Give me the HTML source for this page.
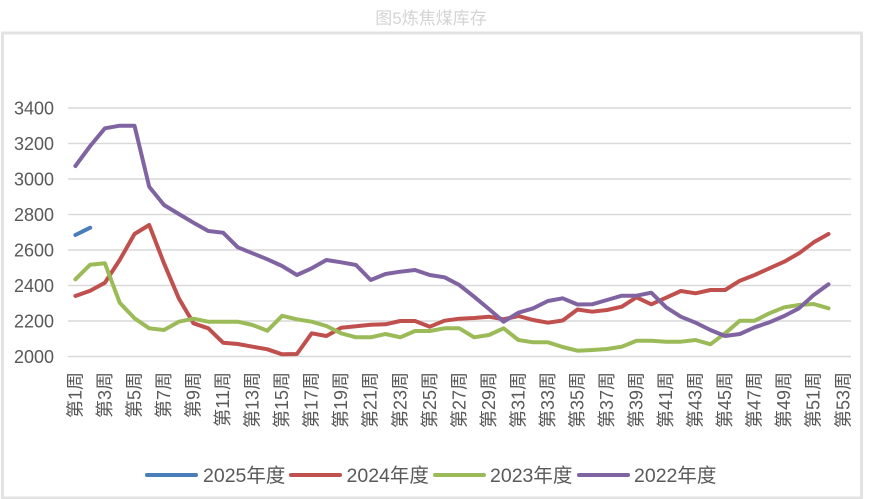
<!DOCTYPE html>
<html><head><meta charset="utf-8"><style>
html,body{margin:0;padding:0;background:#fff;}
svg{display:block;}
text{font-family:"Liberation Sans","Noto Sans CJK SC",sans-serif;}
</style></head><body>
<svg width="870" height="499" viewBox="0 0 870 499" xmlns="http://www.w3.org/2000/svg">
<rect x="0" y="0" width="870" height="499" fill="#fff"/>
<text x="431" y="24" font-size="17" fill="#d4d4d4" text-anchor="middle">图5炼焦煤库存</text>
<rect x="2.5" y="33" width="859" height="465" fill="none" stroke="#e3e3e3" stroke-width="3"/>
<g stroke="#d9d9d9" stroke-width="1.6">
<line x1="68" y1="108" x2="851" y2="108"/>
<line x1="68" y1="143.5" x2="851" y2="143.5"/>
<line x1="68" y1="179" x2="851" y2="179"/>
<line x1="68" y1="214.5" x2="851" y2="214.5"/>
<line x1="68" y1="250" x2="851" y2="250"/>
<line x1="68" y1="285.5" x2="851" y2="285.5"/>
<line x1="68" y1="321" x2="851" y2="321"/>
<line x1="68" y1="356.5" x2="851" y2="356.5"/>
</g>
<g font-size="18" fill="#595959" text-anchor="end">
<text x="54" y="114.5">3400</text>
<text x="54" y="150">3200</text>
<text x="54" y="185.5">3000</text>
<text x="54" y="221">2800</text>
<text x="54" y="256.5">2600</text>
<text x="54" y="292">2400</text>
<text x="54" y="327.5">2200</text>
<text x="54" y="363">2000</text>
</g>
<g font-size="18" fill="#595959" text-anchor="end">
<text transform="translate(81.4,372) rotate(-90)">第1周</text>
<text transform="translate(110.9,372) rotate(-90)">第3周</text>
<text transform="translate(140.5,372) rotate(-90)">第5周</text>
<text transform="translate(170,372) rotate(-90)">第7周</text>
<text transform="translate(199.5,372) rotate(-90)">第9周</text>
<text transform="translate(229.1,372) rotate(-90)">第11周</text>
<text transform="translate(258.6,372) rotate(-90)">第13周</text>
<text transform="translate(288.1,372) rotate(-90)">第15周</text>
<text transform="translate(317.7,372) rotate(-90)">第17周</text>
<text transform="translate(347.2,372) rotate(-90)">第19周</text>
<text transform="translate(376.7,372) rotate(-90)">第21周</text>
<text transform="translate(406.3,372) rotate(-90)">第23周</text>
<text transform="translate(435.8,372) rotate(-90)">第25周</text>
<text transform="translate(465.3,372) rotate(-90)">第27周</text>
<text transform="translate(494.9,372) rotate(-90)">第29周</text>
<text transform="translate(524.4,372) rotate(-90)">第31周</text>
<text transform="translate(553.9,372) rotate(-90)">第33周</text>
<text transform="translate(583.5,372) rotate(-90)">第35周</text>
<text transform="translate(613,372) rotate(-90)">第37周</text>
<text transform="translate(642.5,372) rotate(-90)">第39周</text>
<text transform="translate(672.1,372) rotate(-90)">第41周</text>
<text transform="translate(701.6,372) rotate(-90)">第43周</text>
<text transform="translate(731.1,372) rotate(-90)">第45周</text>
<text transform="translate(760.7,372) rotate(-90)">第47周</text>
<text transform="translate(790.2,372) rotate(-90)">第49周</text>
<text transform="translate(819.7,372) rotate(-90)">第51周</text>
<text transform="translate(849.3,372) rotate(-90)">第53周</text>
</g>
<g fill="none" stroke-width="4" stroke-linejoin="round" stroke-linecap="round">
<polyline stroke="#4a7ebb" points="75.4,235 90.2,227.7"/>
<polyline stroke="#c0504d" points="75.4,296 90.2,290.7 104.9,282.7 119.7,260 134.5,234 149.2,225 164,263.3 178.8,298.3 193.5,323.3 208.3,328.3 223.1,342.7 237.8,344 252.6,346.7 267.4,349.3 282.1,354.3 296.9,354 311.7,333.3 326.4,336 341.2,327.7 356,326.3 370.7,324.7 385.5,324.3 400.3,321 415,321 429.8,326.7 444.6,320.7 459.3,318.7 474.1,318 488.9,316.7 503.6,319.3 518.4,316 533.2,320 547.9,322.7 562.7,320.5 577.5,309.5 592.2,311.7 607,310 621.8,306.7 636.5,297.3 651.3,304.3 666.1,297.7 680.8,291 695.6,293.3 710.4,290 725.1,290 739.9,280.7 754.7,275 769.4,268.3 784.2,261.7 799,253.3 813.7,242.3 828.5,234"/>
<polyline stroke="#9bbb59" points="75.4,279.3 90.2,264.7 104.9,263.3 119.7,302.7 134.5,318.3 149.2,328.3 164,330 178.8,321.7 193.5,318.7 208.3,321.7 223.1,321.7 237.8,321.7 252.6,325 267.4,330.7 282.1,315.8 296.9,319.3 311.7,321.7 326.4,326 341.2,333.3 356,337.3 370.7,337.3 385.5,334 400.3,337.3 415,331 429.8,331 444.6,328.3 459.3,328.3 474.1,337.3 488.9,335 503.6,328.3 518.4,340 533.2,342.3 547.9,342.3 562.7,347 577.5,350.7 592.2,350 607,349 621.8,346.7 636.5,340.7 651.3,340.7 666.1,341.7 680.8,341.7 695.6,340 710.4,344.3 725.1,333.3 739.9,320.7 754.7,320.7 769.4,313.3 784.2,307.3 799,305 813.7,304 828.5,308.3"/>
<polyline stroke="#8064a2" points="75.4,166 90.2,146 104.9,128.3 119.7,125.7 134.5,125.7 149.2,186.7 164,205 178.8,214 193.5,222.7 208.3,231 223.1,232.7 237.8,247.3 252.6,253.3 267.4,259.3 282.1,266 296.9,275 311.7,268.3 326.4,260 341.2,262.3 356,265 370.7,280 385.5,274 400.3,271.7 415,270 429.8,275 444.6,277.3 459.3,285 474.1,296.7 488.9,309 503.6,321.7 518.4,312.7 533.2,308.3 547.9,301 562.7,298.3 577.5,304.5 592.2,304.3 607,300 621.8,295.7 636.5,295.7 651.3,292.7 666.1,307.3 680.8,316.7 695.6,322.7 710.4,330 725.1,336 739.9,334 754.7,327.3 769.4,322.3 784.2,316 799,308.3 813.7,295 828.5,284.3"/>
</g>
<g stroke-width="4" stroke-linecap="round">
<line x1="147" y1="475" x2="196" y2="475" stroke="#4a7ebb"/>
<line x1="291" y1="475" x2="340" y2="475" stroke="#c0504d"/>
<line x1="435" y1="475" x2="484" y2="475" stroke="#9bbb59"/>
<line x1="579" y1="475" x2="628" y2="475" stroke="#8064a2"/>
</g>
<g font-size="19.5" fill="#595959">
<text x="203" y="482">2025年度</text>
<text x="346.5" y="482">2024年度</text>
<text x="490" y="482">2023年度</text>
<text x="634" y="482">2022年度</text>
</g>
</svg>
</body></html>
